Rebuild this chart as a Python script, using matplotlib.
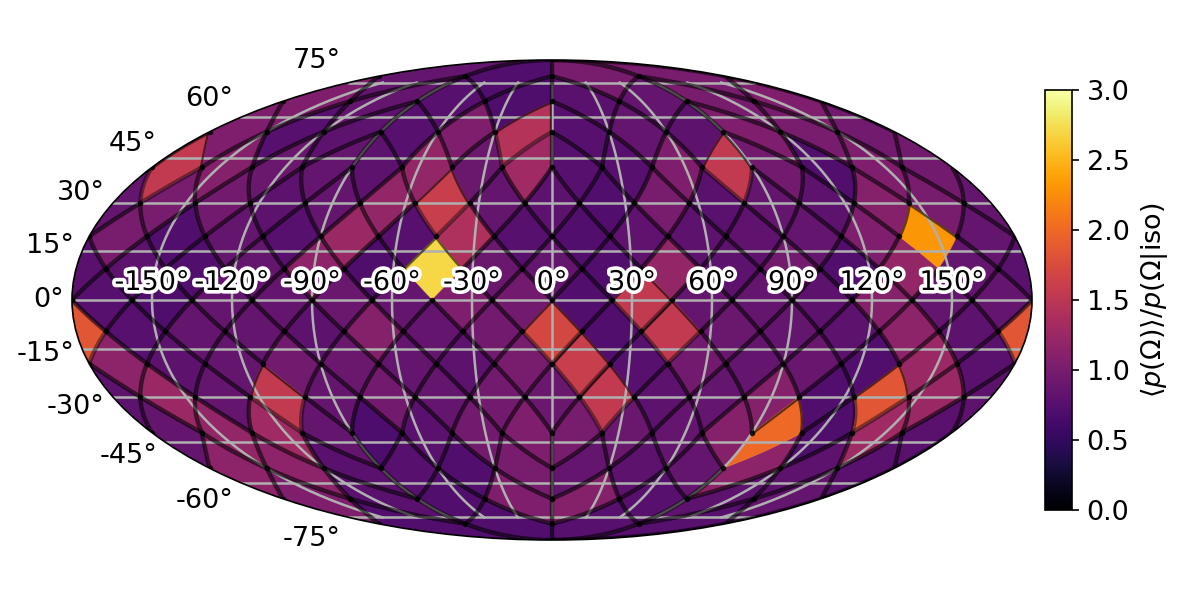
import numpy as np
import matplotlib
matplotlib.use("Agg")
import matplotlib.pyplot as plt
import matplotlib.patheffects as pe
from matplotlib.ticker import NullFormatter
from matplotlib.cm import ScalarMappable
from matplotlib.colors import Normalize

# Values per HEALPix (nside=4) iso-latitude ring, north to south, longitude -180 -> 180
r1 = [.85, .72, 1.0, 1.0]
r2 = [1.05, .85, .75, .7, .78, .85, 1.0, 1.05]
r3 = [1.05, .75, .8, .75, 1.05, 1.45, .75, .85, .8, 1.05, 1.0, .95]
r4 = [1.55, 1.1, .9, .85, .8, 1.2, .9, 1.3, .75, .75, 1.05, 1.55, .95, .72, 1.05, .95]
r5 = [.85, 1.0, .95, .8, .85, 1.2, 1.6, .85, .8, .72, 1.0, .78, .85, .8, 1.1, 1.0]
r6 = [1.0, .72, .85, .75, 1.25, .75, 1.4, .75, .72, .82, .8, .82, .85, 1.05, 2.3, .85]
r7 = [.78, .8, .72, .85, 1.15, .7, 2.7, .9, .85, .72, 1.2, .8, .95, .72, 1.2, .85]
r8 = [.75, .7, .85, .85, .9, .85, 1.05, .95, .72, 1.55, .85, .85, .8, 1.1, .85, .85]
r9 = [1.85, .75, .85, .85, .8, 1.1, .85, .95, 1.7, .72, 1.55, .9, .85, .8, 1.15, .8]
r10 = [1.15, .8, .85, .95, .9, .85, .8, 1.0, 1.6, .75, .95, .85, .88, .72, 1.25, .78]
r11 = [.8, 1.25, .85, 1.55, .85, .95, .85, .95, .9, 1.55, .8, .85, 1.1, .72, 1.85, 1.25]
r12 = [.85, 1.2, 1.3, .85, .68, .78, .95, 1.05, 1.0, .9, .85, 1.1, 2.0, .7, 1.3, .78]
r13 = [1.15, 1.15, .78, .75, .72, 1.0, .85, .8, .85, 1.15, .8, .78]
r14 = [1.05, .78, .72, 1.05, 1.1, .75, .8, .85]
r15 = [.72, .72, .75, .75]
rings = [r1, r2, r3, r4, r5, r6, r7, r8, r9, r10, r11, r12, r13, r14, r15]

lon_labels = [-150, -120, -90, -60, -30, 0, 30, 60, 90, 120, 150]
cbar_ticks = [0.0, 0.5, 1.0, 1.5, 2.0, 2.5, 3.0]
cbar_label = r"$\langle p(\Omega)\rangle / p(\Omega|\mathrm{iso})$"

NSIDE = 4
JRLL = [2, 2, 2, 2, 3, 3, 3, 3, 4, 4, 4, 4]
JPLL = [1, 3, 5, 7, 0, 2, 4, 6, 1, 3, 5, 7]


def xyf2loc(x, y, f):
    """HEALPix face coordinates to (z, phi), phi in [0, 2pi)."""
    x = np.minimum(x, 1 - 1e-7)
    y = np.minimum(y, 1 - 1e-7)
    x = np.maximum(x, 1e-7)
    y = np.maximum(y, 1e-7)
    jr = JRLL[f] - x - y
    z = (2 - jr) * 2.0 / 3.0
    north = jr < 1
    south = jr > 3
    nr = np.where(north, jr, np.where(south, 4 - jr, 1.0))
    z = np.where(north, 1 - nr ** 2 / 3, np.where(south, nr ** 2 / 3 - 1, z))
    t = JPLL[f] * nr + x - y
    t = np.where(t < 0, t + 8, t)
    t = np.where(t >= 8, t - 8, t)
    return z, 0.25 * np.pi * t / nr


def edge_key(z, phi):
    m = len(z) // 2
    s = np.sqrt(max(1 - z[m] ** 2, 0))
    return (round(s * np.cos(phi[m]), 3) + 0.0, round(s * np.sin(phi[m]), 3) + 0.0, round(z[m], 3) + 0.0)


# Build the pixels
pixels = []
for f in range(12):
    for ix in range(NSIDE):
        for iy in range(NSIDE):
            zc, pc = xyf2loc(np.array([(ix + .5) / NSIDE]), np.array([(iy + .5) / NSIDE]), f)
            zc, pc = float(zc[0]), float(pc[0])
            lonc = (pc + np.pi) % (2 * np.pi) - np.pi
            if abs(lonc - np.pi) < 1e-6:
                lonc = -np.pi
            pixels.append(dict(f=f, ix=ix, iy=iy, z=zc, lon=lonc))

# attach the values
order = sorted(range(len(pixels)), key=lambda k: (-round(pixels[k]["z"], 5), round(pixels[k]["lon"], 5)))
flat = [v for r in rings for v in r]
for k, v in zip(order, flat):
    pixels[k]["v"] = v

t = np.linspace(0, 1, 41)
edges = {}
corners = {}
for k, p in enumerate(pixels):
    x0, x1 = p["ix"] / NSIDE, (p["ix"] + 1) / NSIDE
    y0, y1 = p["iy"] / NSIDE, (p["iy"] + 1) / NSIDE
    sides = [
        ("top", x1 + 0 * t, y1 + (y0 - y1) * t),   # N -> E
        ("bot", x1 + (x0 - x1) * t, y0 + 0 * t),   # E -> S
        ("bot", x0 + 0 * t, y0 + (y1 - y0) * t),   # S -> W
        ("top", x0 + (x1 - x0) * t, y1 + 0 * t),   # W -> N
    ]
    lons, lats = [], []
    for kind, xs, ys in sides:
        z, phi = xyf2loc(xs, ys, p["f"])
        # unwrap around the pixel centre
        dphi = (phi - p["lon"] + np.pi) % (2 * np.pi) - np.pi
        lo = p["lon"] + dphi
        la = np.arcsin(np.clip(z, -1, 1))
        lons.append(lo)
        lats.append(la)
        key = edge_key(z, phi)
        edges.setdefault(key, []).append((k, kind, lo, la))
        ck = (round(float(np.cos(phi[0]) * np.cos(la[0])), 3), round(float(np.sin(phi[0]) * np.cos(la[0])), 3), round(float(z[0]), 3))
        corners[ck] = ((float(phi[0]) + np.pi) % (2 * np.pi) - np.pi, float(la[0]))
    p["plon"] = np.concatenate(lons)
    p["plat"] = np.concatenate(lats)

fig = plt.figure(figsize=(8, 4), dpi=150)
ax = fig.add_axes([0.06, 0.1, 0.8, 0.8], projection="mollweide")
cmap = plt.get_cmap("inferno")
norm = Normalize(0, 3)

shifts = [0.0, -2 * np.pi, 2 * np.pi]
for p in pixels:
    p["wrap"] = p["plon"].min() < -np.pi - 1e-3 or p["plon"].max() > np.pi + 1e-3
    c = cmap(norm(p["v"]))
    for s in shifts:
        if s != 0 and not p["wrap"]:
            continue
        poly = ax.fill(p["plon"] + s, p["plat"], facecolor=c, edgecolor=c, lw=0.2, zorder=1)[0]
        if s == 0:
            p["patch"] = poly

ax.grid(True, lw=1.2)
ax.xaxis.set_major_formatter(NullFormatter())

BRIGHT = 1.45
LW = 2.1
ALPHA = 0.58


def draw(lo, la, wrap, clip=None, alpha=ALPHA):
    for s in shifts:
        if s != 0 and not wrap:
            continue
        ln, = ax.plot(lo + s, la, color="k", lw=LW, alpha=alpha, zorder=2, solid_capstyle="butt")
        if clip is not None:
            ln.set_clip_path(clip)


for key, owners in edges.items():
    vals = [pixels[o[0]]["v"] for o in owners]
    k, kind, lo, la = owners[0]
    wrap = any(pixels[o[0]]["wrap"] for o in owners)
    if max(vals) < BRIGHT:
        draw(lo, la, wrap)
    else:
        for kk, kd, l0, l1 in owners:
            p = pixels[kk]
            if p["v"] >= BRIGHT and kd == "top":
                if p["wrap"]:
                    draw(l0, l1, True)
                else:
                    draw(l0, l1, False, clip=p["patch"])
            elif BRIGHT <= p["v"] < 2.0 and kd == "bot":
                draw(l0, l1, p["wrap"], alpha=0.42)

vlon = [c[0] for c in corners.values() if abs(c[1]) < np.radians(85)]
vlat = [c[1] for c in corners.values() if abs(c[1]) < np.radians(85)]
ax.scatter(vlon, vlat, s=7, color="k", alpha=0.85, linewidths=0, zorder=2.1)

xform, va, ha = ax.get_xaxis_text1_transform(0)
for d in lon_labels:
    ax.text(np.radians(d), 0.012, f"{d}\N{DEGREE SIGN}", transform=xform, va=va, ha=ha, zorder=5,
            fontsize=13, path_effects=[pe.withStroke(linewidth=3.5, foreground="w")])
ax.tick_params(axis="y", labelsize=13)

cax = fig.add_axes([1045 / 1200, 1 - 510 / 600, 27 / 1200, 420 / 600])
cb = fig.colorbar(ScalarMappable(norm=norm, cmap=cmap), cax=cax, ticks=cbar_ticks)
cb.ax.tick_params(labelsize=13)
cb.set_label(cbar_label, fontsize=13)

fig.savefig("out.png", dpi=150)
